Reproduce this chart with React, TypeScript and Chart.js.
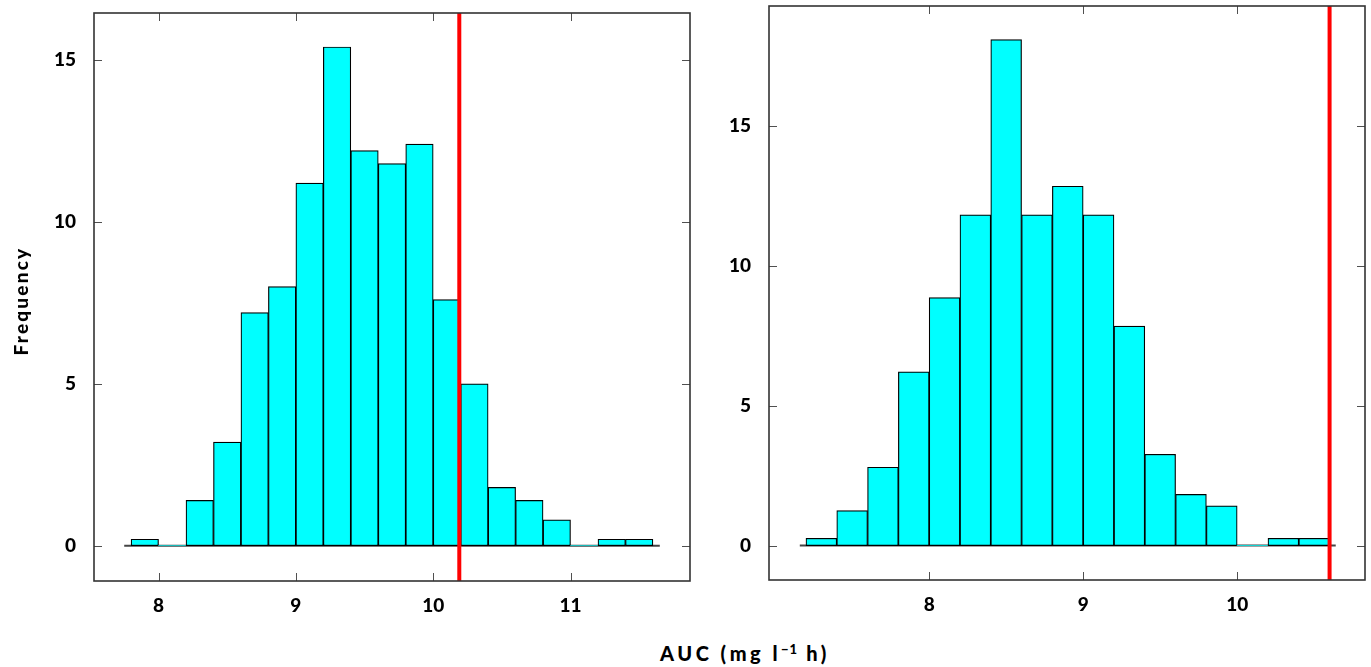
import React, { useEffect, useRef } from "react";
import { Chart, registerables } from "chart.js";

Chart.register(...registerables);

// ---- data ----
const binWidth = 0.2;

// left panel: bin left edges and frequencies (%)
const leftBins = [7.8, 8.0, 8.2, 8.4, 8.6, 8.8, 9.0, 9.2, 9.4, 9.6, 9.8, 10.0, 10.2, 10.4, 10.6, 10.8, 11.0, 11.2, 11.4];
const leftFreq = [0.2, 0, 1.4, 3.2, 7.2, 8.0, 11.2, 15.4, 12.2, 11.8, 12.4, 7.6, 5.0, 1.8, 1.4, 0.8, 0, 0.2, 0.2];
const leftRef = 10.19;
const leftBaseline = [7.75, 11.65];
const leftXTicks = [8, 9, 10, 11];
const leftYTicks = [0, 5, 10, 15];
const leftXRange = [7.53, 11.87];
const leftYRange = [-1.09, 16.45];

// right panel
const rightBins = [7.2, 7.4, 7.6, 7.8, 8.0, 8.2, 8.4, 8.6, 8.8, 9.0, 9.2, 9.4, 9.6, 9.8, 10.0, 10.2, 10.4];
const rightFreq = [0.26, 1.25, 2.8, 6.21, 8.86, 11.82, 18.08, 11.82, 12.84, 11.82, 7.84, 3.26, 1.83, 1.42, 0, 0.26, 0.26];
const rightRef = 10.6;
const rightBaseline = [7.16, 10.64];
const rightXTicks = [8, 9, 10];
const rightYTicks = [0, 5, 10, 15];
const rightXRange = [6.96, 10.83];
const rightYRange = [-1.23, 19.28];

const yTitle = "Frequency";

const TICK_FONT = { family: "Lato", size: 19, weight: "900" as any };

const framePlugin = {
  id: "frame",
  afterDraw(chart: any) {
    const { ctx, chartArea } = chart;
    const { left, right, top, bottom } = chartArea;
    const xs = chart.scales.x;
    const ys = chart.scales.y;
    const L = 8;
    ctx.save();
    ctx.strokeStyle = "#505050";
    ctx.lineWidth = 1;
    ctx.beginPath();
    xs.ticks.forEach((t: any) => {
      const px = Math.round(xs.getPixelForValue(t.value)) + 0.5;
      ctx.moveTo(px, bottom);
      ctx.lineTo(px, bottom - L);
      ctx.moveTo(px, top);
      ctx.lineTo(px, top + L);
    });
    ys.ticks.forEach((t: any) => {
      const py = Math.round(ys.getPixelForValue(t.value)) + 0.5;
      ctx.moveTo(left, py);
      ctx.lineTo(left + L, py);
      ctx.moveTo(right, py);
      ctx.lineTo(right - L, py);
    });
    ctx.stroke();
    ctx.strokeStyle = "#333333";
    ctx.lineWidth = 1.6;
    ctx.strokeRect(left, top, right - left, bottom - top);
    ctx.restore();
  },
};

type PanelProps = {
  bins: number[];
  freq: number[];
  refX: number;
  baseline: number[];
  xTicks: number[];
  yTicks: number[];
  xRange: number[];
  yRange: number[];
  left: number;
  width: number;
  height: number;
  padTop: number;
  padRight: number;
  yWidth: number;
  xHeight: number;
  yPad: number;
};

function Panel(p: PanelProps) {
  const ref = useRef<HTMLCanvasElement | null>(null);
  useEffect(() => {
    if (!ref.current) return;
    const chart = new Chart(ref.current, {
      type: "bar",
      data: {
        datasets: [
          {
            type: "line",
            data: [
              { x: p.refX, y: p.yRange[0] - 1 },
              { x: p.refX, y: p.yRange[1] + 1 },
            ],
            borderColor: "#ff0000",
            borderWidth: 4,
            pointRadius: 0,
            order: 0,
          } as any,
          {
            type: "bar",
            data: p.bins.map((b, i) => ({ x: b + binWidth / 2, y: p.freq[i] })),
            backgroundColor: "#00ffff",
            borderColor: "#000000",
            borderWidth: (c: any) => (c.raw && c.raw.y === 0 ? 0 : 1.2),
            borderSkipped: false,
            barPercentage: 1,
            categoryPercentage: 1,
            order: 1,
          } as any,
          {
            type: "line",
            data: [
              { x: p.baseline[0], y: 0 },
              { x: p.baseline[1], y: 0 },
            ],
            borderColor: "#444444",
            borderWidth: 2,
            pointRadius: 0,
            order: 2,
          } as any,
        ],
      },
      options: {
        responsive: false,
        animation: false,
        events: [],
        layout: { padding: { top: p.padTop, right: p.padRight, left: 0, bottom: 0 } },
        plugins: { legend: { display: false }, tooltip: { enabled: false } },
        scales: {
          x: {
            type: "linear",
            min: p.xRange[0],
            max: p.xRange[1],
            offset: false,
            grid: { display: false, drawTicks: false },
            border: { display: false },
            afterBuildTicks: (s: any) => {
              s.ticks = p.xTicks.map((v) => ({ value: v }));
            },
            afterFit: (s: any) => {
              s.height = p.xHeight;
              s.paddingLeft = 0;
              s.paddingRight = 0;
            },
            ticks: {
              font: TICK_FONT,
              color: "#000",
              padding: 13,
              maxRotation: 0,
              autoSkip: false,
              callback: (v: any) => String(v),
            },
          },
          y: {
            type: "linear",
            min: p.yRange[0],
            max: p.yRange[1],
            grid: { display: false, drawTicks: false },
            border: { display: false },
            afterBuildTicks: (s: any) => {
              s.ticks = p.yTicks.map((v) => ({ value: v }));
            },
            afterFit: (s: any) => {
              s.width = p.yWidth;
              s.paddingTop = 0;
              s.paddingBottom = 0;
            },
            ticks: {
              font: TICK_FONT,
              color: "#000",
              padding: p.yPad,
              autoSkip: false,
              callback: (v: any) => String(v),
            },
          },
        },
      } as any,
      plugins: [framePlugin],
    });
    return () => chart.destroy();
  }, []);
  return (
    <canvas
      ref={ref}
      width={p.width}
      height={p.height}
      style={{ position: "absolute", left: p.left, top: 0, width: p.width, height: p.height, display: "block" }}
    />
  );
}

export default function App() {
  return (
    <div
      style={{
        position: "fixed",
        left: 0,
        top: 0,
        width: 1371,
        height: 667,
        background: "#ffffff",
        fontFamily: "Lato, sans-serif",
        overflow: "hidden",
      }}
    >
      <Panel
        bins={leftBins}
        freq={leftFreq}
        refX={leftRef}
        baseline={leftBaseline}
        xTicks={leftXTicks}
        yTicks={leftYTicks}
        xRange={leftXRange}
        yRange={leftYRange}
        left={0}
        width={700}
        height={625}
        padTop={13}
        padRight={10}
        yWidth={94}
        xHeight={44}
        yPad={18}
      />
      <Panel
        bins={rightBins}
        freq={rightFreq}
        refX={rightRef}
        baseline={rightBaseline}
        xTicks={rightXTicks}
        yTicks={rightYTicks}
        xRange={rightXRange}
        yRange={rightYRange}
        left={700}
        width={671}
        height={625}
        padTop={6}
        padRight={6}
        yWidth={69}
        xHeight={45}
        yPad={18}
      />
      <div
        style={{
          position: "absolute",
          left: 21 - 100,
          top: 301 - 12,
          width: 200,
          height: 24,
          lineHeight: "24px",
          textAlign: "center",
          transform: "rotate(-90deg)",
          fontSize: 19,
          fontWeight: 900,
          letterSpacing: "2.2px",
          color: "#000",
          whiteSpace: "nowrap",
        }}
      >
        {yTitle}
      </div>
      <div
        style={{
          position: "absolute",
          left: 545,
          top: 641,
          width: 400,
          height: 24,
          lineHeight: "24px",
          textAlign: "center",
          fontSize: 20,
          fontWeight: 900,
          letterSpacing: "3.5px",
          color: "#000",
          whiteSpace: "nowrap",
        }}
      >
        AUC (mg l
        <span style={{ fontSize: 13, position: "relative", top: -7, letterSpacing: "1px" }}>−1</span> h)
      </div>
    </div>
  );
}
